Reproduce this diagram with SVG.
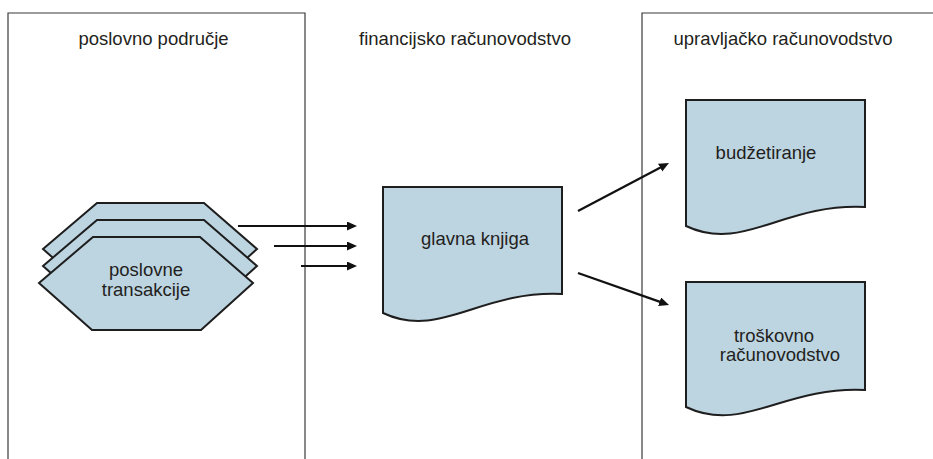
<svg xmlns="http://www.w3.org/2000/svg" width="933" height="459" viewBox="0 0 933 459">
<style>
  .panel { fill: none; stroke: #3a3a3a; stroke-width: 1.2; }
  .shape { fill: #bdd4e1; stroke: #1e1e1e; stroke-width: 2; stroke-linejoin: miter; }
  .lbl { font-family: "Liberation Sans", Arial, sans-serif; font-size: 18.5px; fill: #231f20; text-anchor: middle; }
  .conn { fill: none; stroke: #111; stroke-width: 2.2; marker-end: url(#ah); }
</style>
<defs>
  <marker id="ah" markerUnits="userSpaceOnUse" markerWidth="12" markerHeight="10" refX="2" refY="4.5" orient="auto">
    <path d="M0,0 L10,4.5 L0,9 z" fill="#111"/>
  </marker>
</defs>
<rect width="933" height="459" fill="#ffffff"/>

<g id="panel-poslovno">
  <path class="panel" d="M8,460 V13 H305 V460"/>
  <text class="lbl" x="153.5" y="45">poslovno područje</text>
</g>
<g id="panel-financijsko">
  <text class="lbl" x="465" y="45">financijsko računovodstvo</text>
</g>
<g id="panel-upravljacko">
  <path class="panel" d="M642,460 V13 H934"/>
  <text class="lbl" x="783" y="45">upravljačko računovodstvo</text>
</g>

<g id="node-transakcije">
  <polygon class="shape" points="43,249 97,203 204,203 257,249 205,296 96,296"/>
  <polygon class="shape" points="43,266 97,220 204,220 257,266 205,313 96,313"/>
  <polygon class="shape" points="39,283 93,237 200,237 253,283 201,330 92,330"/>
  <text class="lbl" x="146" y="276">poslovne</text>
  <text class="lbl" x="146" y="296">transakcije</text>
</g>

<g id="node-glavna-knjiga">
  <path class="shape" d="M383,187 H562 V294 C480,290 440,340 383,313 Z"/>
  <text class="lbl" x="475" y="245">glavna knjiga</text>
</g>

<g id="node-budzetiranje">
  <path class="shape" d="M686,100 H865 V207 C783,203 743,253 686,226 Z"/>
  <text class="lbl" x="766" y="159">budžetiranje</text>
</g>

<g id="node-troskovno">
  <path class="shape" d="M686,282 H865 V390 C783,386 743,434 686,407 Z"/>
  <text class="lbl" x="774" y="342">troškovno</text>
  <text class="lbl" x="780" y="361">računovodstvo</text>
</g>

<g id="connectors">
  <path class="conn" d="M238,226 L349,226"/>
  <path class="conn" d="M274,246 L349,246"/>
  <path class="conn" d="M301,266 L349,266"/>
  <path class="conn" d="M578,211 L661.9,166.7"/>
  <path class="conn" d="M578,273 L661.5,302.4"/>
</g>
</svg>
